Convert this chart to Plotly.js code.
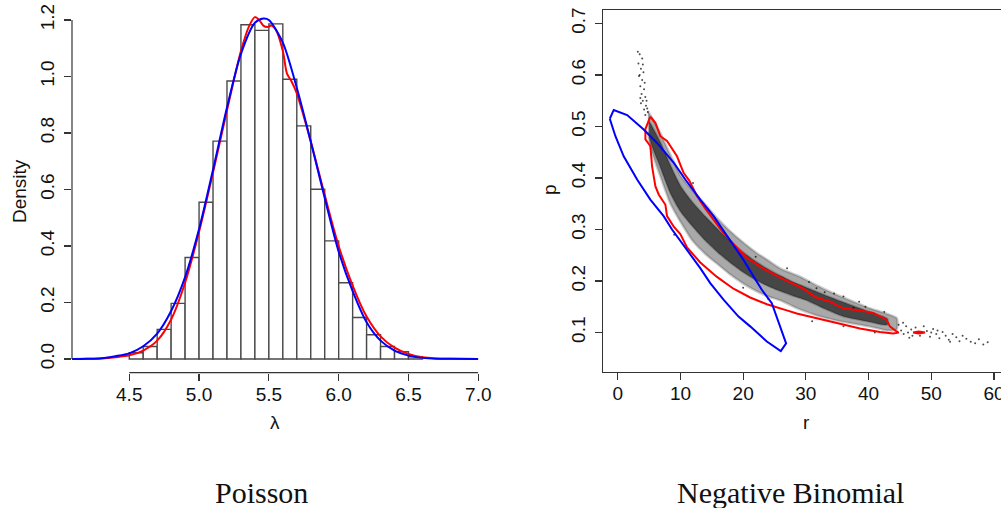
<!DOCTYPE html>
<html>
<head>
<meta charset="utf-8">
<script src="https://cdn.plot.ly/plotly-3.0.1.min.js"></script>
<style>
html,body{margin:0;padding:0;overflow:hidden;background:#fff;width:1001px;height:508px;}
#chart{width:1040px;height:508px;}
</style>
</head>
<body>
<div id="chart"></div>
<script>
// ---------- Left panel: Poisson posterior of lambda ----------
const binLeft = [4.5,4.6,4.7,4.8,4.9,5.0,5.1,5.2,5.3,5.4,5.5,5.6,5.7,5.8,5.9,6.0,6.1,6.2,6.3,6.4,6.5];
const binDensity = [0.022,0.044,0.105,0.197,0.359,0.555,0.771,0.984,1.183,1.163,1.186,0.990,0.825,0.601,0.418,0.270,0.147,0.086,0.044,0.026,0.008];

const redLambda  = [4.09,4.2,4.3,4.4,4.5,4.6,4.7,4.8,4.9,5.0,5.1,5.2,5.3,5.36,5.40,5.43,5.46,5.49,5.52,5.55,5.6,5.63,5.66,5.7,5.8,5.9,6.0,6.1,6.2,6.3,6.4,6.5,6.6,6.7,6.8,7.0];
const redDensity = [0.0,0.001,0.002,0.006,0.013,0.030,0.065,0.140,0.270,0.450,0.660,0.880,1.090,1.180,1.210,1.200,1.180,1.175,1.180,1.165,1.090,1.010,0.985,0.940,0.770,0.580,0.400,0.260,0.150,0.080,0.040,0.018,0.006,0.002,0.001,0.0];

const blueLambda  = [4.09,4.2,4.3,4.4,4.5,4.6,4.7,4.8,4.9,5.0,5.1,5.2,5.3,5.4,5.46,5.5,5.6,5.7,5.8,5.9,6.0,6.1,6.2,6.3,6.4,6.5,6.6,6.7,6.8,7.0];
const blueDensity = [0.0,0.001,0.003,0.010,0.020,0.045,0.090,0.170,0.290,0.460,0.670,0.890,1.080,1.190,1.205,1.200,1.120,0.960,0.770,0.570,0.380,0.240,0.130,0.065,0.030,0.012,0.004,0.001,0.0005,0.0];

const lambdaTicks = [4.5,5.0,5.5,6.0,6.5,7.0];
const densityTicks = [0.0,0.2,0.4,0.6,0.8,1.0,1.2];

// ---------- Right panel: Negative Binomial (r, p) ----------
// posterior sample cloud, outer band (upper edge left->right, then lower edge right->left)
const bandR = [4.8,5.2,6.0,6.8,8.4,10,12,14,16,18,20,22,24,26,29,32,35,38,40,43,44.5,
               44.5,43,40,35,32,29,26,24,22,20,18,16,14,12,10,8.4,6.8,6.0,5.2,4.8];
const bandP = [0.530,0.522,0.505,0.487,0.445,0.405,0.375,0.348,0.320,0.296,0.275,0.256,0.240,0.224,0.209,0.190,0.173,0.158,0.148,0.136,0.128,
               0.106,0.104,0.112,0.123,0.132,0.145,0.162,0.170,0.181,0.195,0.212,0.232,0.252,0.277,0.315,0.350,0.403,0.430,0.460,0.490];
// darker core of the cloud
const coreR = [5.0,5.5,6.8,8.4,10,12,14,16,18,20,22,24,26,28,30,33,36,40,43,
               43,40,36,33,30,28,26,24,22,20,18,16,14,12,10,8.4,6.8,5.5,5.0];
const coreP = [0.510,0.500,0.470,0.425,0.385,0.352,0.325,0.300,0.276,0.256,0.238,0.223,0.210,0.198,0.188,0.173,0.159,0.141,0.127,
               0.115,0.121,0.131,0.146,0.163,0.171,0.180,0.190,0.202,0.217,0.235,0.255,0.278,0.305,0.335,0.370,0.420,0.460,0.480];
// sparse sample points outside the dense band
const sparseR = [3.2,3.5,3.9,3.3,3.7,4.1,3.4,3.9,3.6,4.2,3.8,4.4,4.0,3.7,4.5,4.2,4.8,4.4,3.6,4.6,4.0,3.5,4.3,4.7,
                 44.8,45.2,45.6,46.0,46.3,46.8,47.5,48.2,48.8,49.3,49.8,50.3,50.8,51.3,51.8,52.3,52.8,53.4,54,54.5,55,55.6,56.3,57,57.6,58.3,59,45.5,47,53,50,51,46.5,
                 33,36,38.5,30.5,27,31,36,41,31.7,37.6,24,20,22,12,9,42.5,39.5,34.5];
const sparseP = [0.645,0.640,0.632,0.622,0.612,0.605,0.598,0.590,0.578,0.572,0.563,0.557,0.550,0.545,0.540,0.533,0.528,0.522,0.555,0.550,0.620,0.600,0.585,0.535,
                 0.115,0.104,0.097,0.112,0.100,0.106,0.110,0.094,0.112,0.103,0.092,0.107,0.097,0.089,0.101,0.094,0.086,0.097,0.091,0.083,0.094,0.088,0.082,0.079,0.087,0.077,0.081,0.119,0.094,0.082,0.100,0.104,0.090,
                 0.178,0.170,0.160,0.198,0.225,0.122,0.112,0.100,0.186,0.148,0.165,0.187,0.247,0.390,0.290,0.140,0.150,0.176];

// red contour (closed)
const redContR = [5.2,6.0,6.8,7.86,9.45,10.5,11.4,12.64,14.0,15.28,16.87,18.6,20.6,23.5,26.5,29.5,31.5,33.85,35.97,38.63,40.75,42.88,43.4,44.47,44.8,
                  43.93,41.81,38.63,35.45,31.74,28.55,26.96,23.78,21.12,18.46,15.82,13.16,11.05,9.98,8.9,7.86,7.6,6.53,6.0,5.47,5.2,4.41,4.41,5.2];
const redContP = [0.519,0.507,0.481,0.472,0.442,0.410,0.395,0.365,0.340,0.319,0.293,0.270,0.245,0.222,0.203,0.186,0.169,0.160,0.147,0.143,0.138,0.125,0.112,0.102,0.100,
                  0.098,0.101,0.108,0.117,0.127,0.137,0.143,0.155,0.168,0.185,0.208,0.236,0.265,0.291,0.306,0.326,0.348,0.368,0.384,0.423,0.462,0.475,0.495,0.519];
// small red island contour
const redIslandR = [47.1,48.0,49.0,48.0,47.1];
const redIslandP = [0.100,0.102,0.100,0.098,0.100];

// blue contour (closed)
const blueContR = [-1.27,-0.64,1.5,4.14,6.27,8.91,10.78,13.16,15.28,17.93,20.05,21.65,22.98,24.57,25.9,26.85,26.0,
                   23.78,21.12,19.26,16.87,14.75,13.16,10.5,8.66,7.32,5.2,3.09,0.95,-0.37,-1.27];
const blueContP = [0.515,0.532,0.522,0.494,0.468,0.430,0.397,0.358,0.326,0.280,0.241,0.209,0.183,0.157,0.112,0.079,0.064,
                   0.0825,0.112,0.131,0.164,0.196,0.225,0.268,0.300,0.326,0.358,0.397,0.442,0.481,0.515];

const rTicks = [0,10,20,30,40,50,60];
const pTicks = [0.1,0.2,0.3,0.4,0.5,0.6,0.7];

// ---------- figure ----------
const W = 1040, H = 508;
const axisColor = '#333';
const sansFam = 'Liberation Sans, Arial, sans-serif';
const tickFont = {family:sansFam, size:19, color:'#111'};
const labFont = {family:sansFam, size:19, color:'#111'};
const titleFont = {family:'Liberation Serif, Times New Roman, serif', size:30, color:'#111'};

const traces = [
  {type:'bar', x:binLeft, y:binDensity, width:0.1, offset:0, xaxis:'x', yaxis:'y',
   marker:{color:'#ffffff', line:{color:'#4a4a4a', width:1.4}}, hoverinfo:'skip', showlegend:false},
  {type:'scatter', mode:'lines', x:redLambda, y:redDensity, xaxis:'x', yaxis:'y',
   line:{color:'#ff0000', width:2, shape:'spline', smoothing:0.8}, showlegend:false},
  {type:'scatter', mode:'lines', x:blueLambda, y:blueDensity, xaxis:'x', yaxis:'y',
   line:{color:'#0000ff', width:2, shape:'spline', smoothing:0.8}, showlegend:false},

  {type:'scatter', mode:'lines', x:bandR, y:bandP, xaxis:'x2', yaxis:'y2', fill:'toself',
   fillcolor:'rgba(30,30,30,0.38)', line:{color:'rgba(60,60,60,0.25)', width:2.5, shape:'spline', smoothing:0.6}, hoverinfo:'skip', showlegend:false},
  {type:'scatter', mode:'lines', x:coreR, y:coreP, xaxis:'x2', yaxis:'y2', fill:'toself',
   fillcolor:'rgba(10,10,10,0.62)', line:{color:'rgba(0,0,0,0.2)', width:2, shape:'spline', smoothing:0.6}, hoverinfo:'skip', showlegend:false},
  {type:'scatter', mode:'markers', x:sparseR, y:sparseP, xaxis:'x2', yaxis:'y2',
   marker:{color:'rgba(0,0,0,0.7)', size:2}, hoverinfo:'skip', showlegend:false},

  {type:'scatter', mode:'lines', x:redContR, y:redContP, xaxis:'x2', yaxis:'y2',
   line:{color:'#ff0000', width:2}, showlegend:false},
  {type:'scatter', mode:'lines', x:redIslandR, y:redIslandP, xaxis:'x2', yaxis:'y2', fill:'toself', fillcolor:'#ff0000',
   line:{color:'#ff0000', width:2}, showlegend:false},
  {type:'scatter', mode:'lines', x:blueContR, y:blueContP, xaxis:'x2', yaxis:'y2',
   line:{color:'#0000ff', width:2}, showlegend:false}
];

const fx = px => px / W;
const fy = py => 1 - py / H;
const ann = (text, px, py, font, angle) => ({text:text, xref:'paper', yref:'paper', x:fx(px), y:fy(py),
  xanchor:'center', yanchor:'middle', textangle:angle||0, showarrow:false, font:font});

const layout = {
  width: W, height: H,
  margin:{l:0, r:0, t:0, b:0},
  paper_bgcolor:'#fff', plot_bgcolor:'rgba(0,0,0,0)',
  showlegend:false,
  xaxis:{domain:[fx(72), fx(478.3)], range:[4.09, 7.0], anchor:'y',
    tickvals:lambdaTicks, ticktext:lambdaTicks.map(v=>v.toFixed(1)),
    ticks:'outside', ticklen:7, tickwidth:1.2, tickcolor:axisColor, ticklabelstandoff:-3,
    showline:false, showgrid:false, zeroline:false, tickfont:tickFont},
  yaxis:{domain:[fy(372.7), fy(3)], range:[-0.0485, 1.26], anchor:'x',
    tickvals:densityTicks, ticktext:densityTicks.map(v=>v.toFixed(1)), tickangle:-90,
    ticks:'outside', ticklen:7, tickwidth:1.2, tickcolor:axisColor, ticklabelstandoff:2,
    showline:false, showgrid:false, zeroline:false, tickfont:tickFont},
  xaxis2:{domain:[fx(602.7), fx(1009)], range:[-2.4, 62.4], anchor:'y2',
    tickvals:rTicks, ticktext:rTicks.map(v=>String(v)),
    ticks:'outside', ticklen:7, tickwidth:1.2, tickcolor:axisColor, ticklabelstandoff:-3,
    showline:true, mirror:true, linecolor:axisColor, linewidth:1.2,
    showgrid:false, zeroline:false, tickfont:tickFont},
  yaxis2:{domain:[fy(371.7), fy(10)], range:[0.024, 0.726], anchor:'x2',
    tickvals:pTicks, ticktext:pTicks.map(v=>v.toFixed(1)), tickangle:-90,
    ticks:'outside', ticklen:7, tickwidth:1.2, tickcolor:axisColor, ticklabelstandoff:2,
    showline:true, mirror:true, linecolor:axisColor, linewidth:1.2,
    showgrid:false, zeroline:false, tickfont:tickFont},
  shapes:[
    {type:'line', xref:'x domain', x0:0, x1:0, yref:'y', y0:densityTicks[0], y1:densityTicks[densityTicks.length-1],
     line:{color:axisColor, width:1.2}},
    {type:'line', xref:'x', x0:lambdaTicks[0], x1:lambdaTicks[lambdaTicks.length-1], yref:'y domain', y0:0, y1:0,
     line:{color:axisColor, width:1.2}}
  ],
  annotations:[
    ann('Density', 19, 191, labFont, -90),
    ann('λ', 275, 422, labFont),
    ann('p', 549, 190, labFont, -90),
    ann('r', 806, 422, labFont),
    ann('Poisson', 261, 492, titleFont),
    ann('Negative Binomial', 790, 492, titleFont)
  ]
};

Plotly.newPlot('chart', traces, layout, {staticPlot:true, displayModeBar:false});
</script>
</body>
</html>
